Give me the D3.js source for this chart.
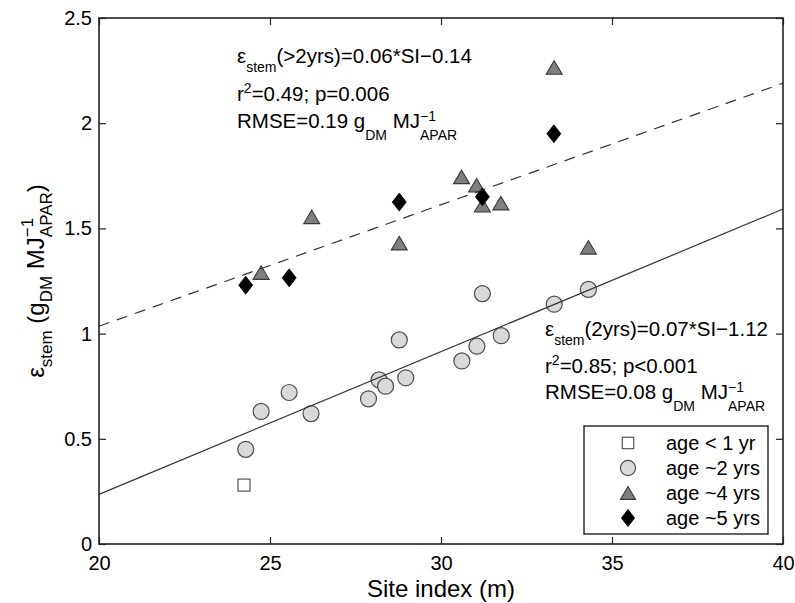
<!DOCTYPE html>
<html>
<head>
<meta charset="utf-8">
<script src="https://cdn.jsdelivr.net/npm/d3@7"></script>
<style>
  html, body { margin: 0; padding: 0; background: #fff; }
  text { font-family: "Liberation Sans", Arial, Helvetica, sans-serif; fill: #000; white-space: pre; }
</style>
</head>
<body>
<svg id="chart" width="795" height="603"></svg>
<script>
// ---------- data ----------
const xTicks = [20, 25, 30, 35, 40];
const xTickLabels = ["20", "25", "30", "35", "40"];
const yTicks = [0, 0.5, 1, 1.5, 2, 2.5];
const yTickLabels = ["0", "0.5", "1", "1.5", "2", "2.5"];

const age1SI = [24.24];
const age1E  = [0.28];
const age2SI = [24.29, 24.74, 25.56, 26.2, 27.88, 28.19, 28.38, 28.78, 28.97, 30.61, 31.05, 31.76, 31.21, 33.31, 34.31];
const age2E  = [0.45, 0.63, 0.72, 0.62, 0.69, 0.78, 0.75, 0.97, 0.79, 0.87, 0.94, 0.99, 1.19, 1.14, 1.21];
const age4SI = [24.74, 26.22, 28.78, 30.6, 31.04, 31.21, 31.75, 33.31, 34.31];
const age4E  = [1.29, 1.555, 1.43, 1.745, 1.705, 1.61, 1.62, 2.265, 1.41];
const age5SI = [24.29, 25.56, 28.78, 31.21, 33.3];
const age5E  = [1.23, 1.265, 1.625, 1.65, 1.95];

// fitted regression lines (end points)
const fitOlderSI = [20, 40];
const fitOlderE  = [1.035, 2.19];
const fit2ySI = [20, 40];
const fit2yE  = [0.236, 1.592];

const legendLabels = ["age < 1 yr", "age ~2 yrs", "age ~4 yrs", "age ~5 yrs"];

// ---------- layout ----------
const svg = d3.select("#chart");
const X0 = 99, X1 = 783, Y0 = 544, Y1 = 18;
const x = d3.scaleLinear().domain([20, 40]).range([X0, X1]);
const y = d3.scaleLinear().domain([0, 2.5]).range([Y0, Y1]);

const FONT = "Liberation Sans, Arial, Helvetica, sans-serif";

// ---------- markers ----------
function trianglePath(w, h) {
  return `M0,${-h/2}L${w/2},${h/2}L${-w/2},${h/2}Z`;
}
function diamondPath(w, h) {
  return `M0,${-h/2}L${w/2},0L0,${h/2}L${-w/2},0Z`;
}
const styles = {
  sq:  { fill: "#ffffff", stroke: "#555555" },
  ci:  { fill: "#d9d9d9", stroke: "#4d4d4d" },
  tr:  { fill: "#7f7f7f", stroke: "#3a3a3a" },
  di:  { fill: "#000000", stroke: "#000000" }
};
function drawMarker(g, kind, cx, cy, scale) {
  scale = scale || 1;
  if (kind === "sq") {
    const s = 12 * scale;
    g.append("rect").attr("x", cx - s/2).attr("y", cy - s/2).attr("width", s).attr("height", s)
      .attr("fill", styles.sq.fill).attr("stroke", styles.sq.stroke).attr("stroke-width", 1.2);
  } else if (kind === "ci") {
    g.append("circle").attr("cx", cx).attr("cy", cy).attr("r", 8 * scale)
      .attr("fill", styles.ci.fill).attr("stroke", styles.ci.stroke).attr("stroke-width", 1.2);
  } else if (kind === "tr") {
    g.append("path").attr("d", trianglePath(16 * scale, 13.5 * scale))
      .attr("transform", `translate(${cx},${cy})`)
      .attr("fill", styles.tr.fill).attr("stroke", styles.tr.stroke).attr("stroke-width", 1.1);
  } else if (kind === "di") {
    g.append("path").attr("d", diamondPath(14 * scale, 18 * scale))
      .attr("transform", `translate(${cx},${cy})`)
      .attr("fill", styles.di.fill).attr("stroke", styles.di.stroke).attr("stroke-width", 0.8);
  }
}

const marks = svg.append("g");
age1SI.forEach((v, i) => drawMarker(marks, "sq", x(v), y(age1E[i])));
age2SI.forEach((v, i) => drawMarker(marks, "ci", x(v), y(age2E[i])));
age4SI.forEach((v, i) => drawMarker(marks, "tr", x(v), y(age4E[i])));
age5SI.forEach((v, i) => drawMarker(marks, "di", x(v), y(age5E[i])));

// ---------- regression lines ----------
const line = d3.line().x(d => x(d[0])).y(d => y(d[1]));
svg.append("path")
  .attr("d", line(fitOlderSI.map((v, i) => [v, fitOlderE[i]])))
  .attr("fill", "none").attr("stroke", "#333").attr("stroke-width", 1.2)
  .attr("stroke-dasharray", "11,8");
svg.append("path")
  .attr("d", line(fit2ySI.map((v, i) => [v, fit2yE[i]])))
  .attr("fill", "none").attr("stroke", "#333").attr("stroke-width", 1.2);

// ---------- axes ----------
const axG = svg.append("g");
const tickLen = 7;
const xAxB = d3.axisBottom(x).tickValues(xTicks).tickSize(-tickLen).tickPadding(12)
  .tickFormat((d, i) => xTickLabels[i]);
const xAxT = d3.axisTop(x).tickValues(xTicks).tickSize(-tickLen).tickFormat("");
const yAxL = d3.axisLeft(y).tickValues(yTicks).tickSize(-tickLen).tickPadding(7)
  .tickFormat((d, i) => yTickLabels[i]);
const yAxR = d3.axisRight(y).tickValues(yTicks).tickSize(-tickLen).tickFormat("");

function styleAxis(g) {
  g.select(".domain").remove();
  g.selectAll(".tick line").attr("stroke", "#222").attr("stroke-width", 1.2);
  g.selectAll(".tick text").attr("font-family", FONT).attr("font-size", 20).attr("fill", "#000");
}
axG.append("g").attr("transform", `translate(0,${Y0})`).call(xAxB).call(styleAxis);
axG.append("g").attr("transform", `translate(0,${Y1})`).call(xAxT).call(styleAxis);
axG.append("g").attr("transform", `translate(${X0},0)`).call(yAxL).call(styleAxis);
axG.append("g").attr("transform", `translate(${X1},0)`).call(yAxR).call(styleAxis);

axG.append("rect").attr("x", X0).attr("y", Y1).attr("width", X1 - X0).attr("height", Y0 - Y1)
  .attr("fill", "none").attr("stroke", "#222").attr("stroke-width", 1.6);

// ---------- rich text helper ----------
function rich(parent, x0, y0, parts) {
  let cx = x0;
  parts.forEach(p => {
    if (p.stack) {
      const a = parent.append("text").attr("x", cx).attr("y", y0 + p.supDy)
        .attr("font-size", p.size).text(p.sup);
      const b = parent.append("text").attr("x", cx).attr("y", y0 + p.subDy)
        .attr("font-size", p.size).text(p.sub);
      cx += Math.max(a.node().getComputedTextLength(), b.node().getComputedTextLength());
    } else {
      const t = parent.append("text").attr("x", cx).attr("y", y0 + (p.dy || 0))
        .attr("font-size", p.size).text(p.t);
      cx += t.node().getComputedTextLength();
    }
  });
  return cx - x0;
}

const F = 20.5, S = 14;
function annotation(x0, baselines, eq, r2rest) {
  const g = svg.append("g");
  rich(g, x0, baselines[0], [
    { t: "ε", size: F },
    { t: "stem", size: S, dy: 9 },
    { t: eq, size: F }
  ]);
  rich(g, x0, baselines[1], [
    { t: "r", size: F },
    { t: "2", size: S, dy: -8 },
    { t: r2rest, size: F }
  ]);
  return g;
}
const upper = annotation(237, [63, 101], "(>2yrs)=0.06*SI−0.14", "=0.49; p=0.006");
rich(upper, 237, 128, [
  { t: "RMSE=0.19 g", size: F },
  { t: "DM", size: S, dy: 12 },
  { t: " MJ", size: F },
  { stack: true, sup: "−1", sub: "APAR", size: S, supDy: -7, subDy: 12 }
]);
const lower = annotation(545, [336, 373], "(2yrs)=0.07*SI−1.12", "=0.85; p<0.001");
rich(lower, 545, 399, [
  { t: "RMSE=0.08 g", size: F },
  { t: "DM", size: S, dy: 12 },
  { t: " MJ", size: F },
  { stack: true, sup: "−1", sub: "APAR", size: S, supDy: -7, subDy: 12 }
]);

// ---------- axis titles ----------
svg.append("text").attr("x", (X0 + X1) / 2).attr("y", 597)
  .attr("text-anchor", "middle").attr("font-size", 24).text("Site index (m)");

const yl = svg.append("g").attr("transform", `translate(44,${(Y0 + Y1) / 2}) rotate(-90)`);
const ylInner = yl.append("g");
const w = rich(ylInner, 0, 0, [
  { t: "ε", size: 24 },
  { t: "stem", size: 17, dy: 8 },
  { t: " (g", size: 24 },
  { t: "DM", size: 17, dy: 8 },
  { t: " MJ", size: 24 },
  { stack: true, sup: "−1", sub: "APAR", size: 17, supDy: -11, subDy: 8 },
  { t: ")", size: 24 }
]);
ylInner.attr("transform", `translate(${-w / 2},0)`);

// ---------- legend ----------
const lg = svg.append("g");
lg.append("rect").attr("x", 584).attr("y", 426).attr("width", 184).attr("height", 108)
  .attr("fill", "#fff").attr("stroke", "#222").attr("stroke-width", 1.4);
const legKinds = ["sq", "ci", "tr", "di"];
legendLabels.forEach((lab, i) => {
  const cy = 443 + i * 25;
  drawMarker(lg, legKinds[i], 628, cy, 0.95);
  lg.append("text").attr("x", 666).attr("y", cy + 7).attr("font-size", 20).text(lab);
});
</script>
</body>
</html>
